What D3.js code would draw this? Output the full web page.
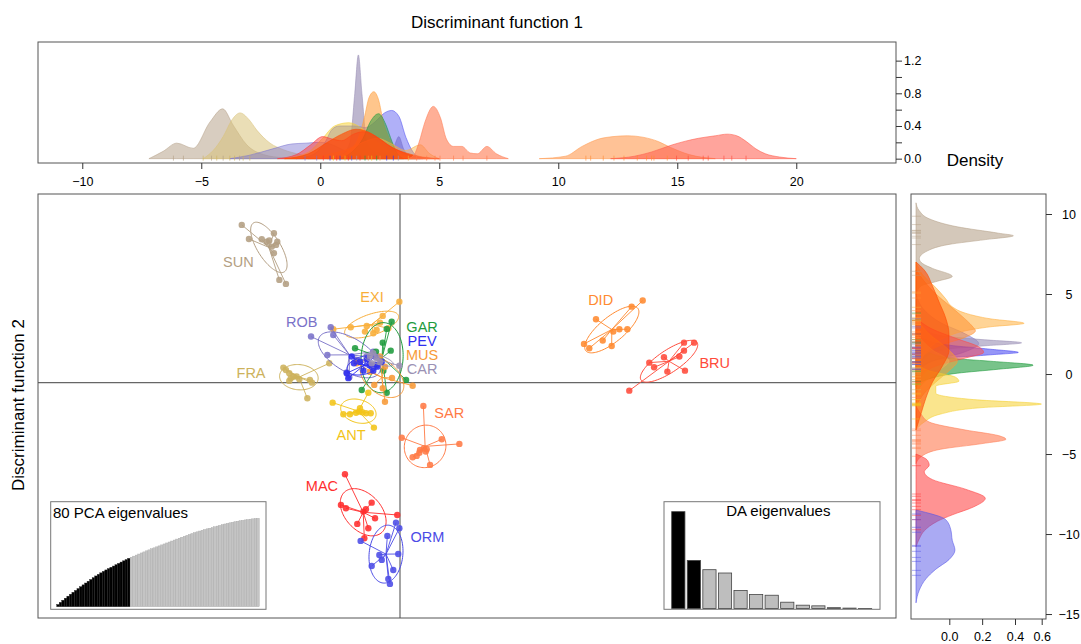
<!DOCTYPE html>
<html><head><meta charset="utf-8">
<script src="https://cdn.jsdelivr.net/npm/d3@7/dist/d3.min.js"></script>
<style>
html,body{margin:0;padding:0;background:#fff;}
svg{display:block;}
text{font-family:"Liberation Sans",Arial,Helvetica,sans-serif;fill:#000;}
</style></head><body>
<svg id="chart" width="1081" height="644"></svg>
<script>
// ---------------- DATA ----------------
const groupNames  = ["SUN","FRA","EXI","ROB","GAR","PEV","MUS","CAR","ANT","SAR","DID","BRU","MAC","ORM"];
const groupColors = ["#B39E82","#CDB25C","#F8AE3A","#7A72C8","#1E9B3C","#2F2FF0","#F79A38","#9B91B4","#F2C418","#FF7A45","#FF8A30","#FF4A3A","#FF2E2E","#4B4BE6"];

// scatter: [LD1, LD2] per individual
const ptsSUN = [[-9.89,9.86],[-9.44,8.98],[-8.64,8.96],[-8.33,8.81],[-8.17,8.88],[-7.88,9.34],[-7.67,8.81],[-7.75,8.61],[-8.02,8.5],[-7.88,8.09],[-7.54,6.42],[-7.13,6.17]];
const ptsFRA = [[-7.29,0.94],[-7.13,0.79],[-6.92,0.59],[-6.83,0.28],[-6.67,0.38],[-6.46,0.38],[-6.92,0.11],[-6.29,0.21],[-5.63,0.17],[-5.5,0],[-4.42,1.21],[-5.79,-0.98]];
const ptsEXI = [[-0.04,5.06],[-1.08,4.17],[-0.73,3.4],[-2.08,3.54],[-3.08,3.46],[-4.17,3.34],[-1.46,3.29],[-1.25,3.75],[-2.19,3.19],[-1.67,3.09]];
const ptsROB = [[-5.56,2.88],[-4.33,3.46],[-4.17,2.98],[-4.54,1.73],[-3.33,0.63],[-3.17,0.34],[-2.71,1.42],[-2.08,1.63],[-1.67,1.94],[-1.46,1.11],[-1.77,1.0]];
const ptsGAR = [[-0.52,3.81],[-0.83,3.36],[-1.08,2.5],[-0.58,2.0],[-2.81,2.15],[-1.04,0.75],[-2.39,-0.46],[-0.83,-0.63],[0.38,0.17],[-1.5,1.94]];
const ptsPEV = [[-3.02,1.63],[-2.88,1.21],[-3.33,0.59],[-3.23,0.28],[-2.5,1.31],[-2.08,1.46],[-1.88,1.11],[-1.56,1.63],[-1.42,1.0],[-1.14,1.31],[-1.67,0.75],[-2.29,0.75]];
const ptsMUS = [[0.79,-0.19],[-1.61,-0.14],[-0.94,-1.19],[-1.08,-0.35],[-2.71,1.21],[-1.25,1.63],[-0.94,1.0],[-1.88,0.67],[-0.5,0.29]];
const ptsCAR = [[-0.04,1.06],[-1.67,1.84],[-1.88,1.63],[-1.25,1.31],[-1.46,1.53],[-1.77,1.21]];
const ptsANT = [[-4.21,-1.25],[-3.54,-1.98],[-3.13,-1.98],[-2.75,-1.88],[-2.5,-1.6],[-2.36,-1.85],[-2.13,-1.91],[-1.83,-1.91],[-1.98,-0.63],[-1.63,-2.81],[-2.56,-1.81]];
const ptsSAR = [[1.46,-1.46],[0.11,-3.44],[2.61,-3.54],[3.71,-3.83],[1.25,-4.21],[1.5,-4.1],[1.67,-4.16],[0.79,-4.66],[1.04,-4.58],[1.21,-4.38],[1.88,-5.14],[1.61,-4.31]];
const ptsDID = [[15.17,5.13],[14.48,4.75],[12.25,3.96],[13.33,3.19],[13.71,3.34],[14.21,3.34],[12.67,2.63],[11.5,2.42],[11.83,2.15],[13.23,2.29]];
const ptsBRU = [[17.75,2.5],[18.38,2.5],[17.75,2.0],[17.46,1.63],[16.5,1.59],[15.58,1.25],[15.88,0.96],[16.71,0.69],[17.81,0.75],[14.33,-0.5]];
const ptsMAC = [[-3.44,-5.73],[-3.69,-7.64],[-3.38,-7.85],[-2.67,-8.83],[-2.29,-8.06],[-2.13,-7.91],[-1.77,-7.5],[-1.56,-8.48],[-1.98,-9.1],[-2.23,-9.73],[-0.17,-8.27]];
const ptsORM = [[-2.46,-9.89],[-0.25,-8.75],[-0.04,-9.1],[-0.79,-9.58],[-0.11,-10.71],[-1.29,-10.77],[-1.77,-11.46],[-0.42,-11.71],[-0.73,-12.27],[-0.63,-12.58],[-1.14,-11.08]];

// top density (Discriminant function 1): [LD1, density]
const topSUN  = [[-7.2,0],[-6.6,0.09],[-6.03,0.19],[-5.34,0.127],[-4.63,0.45],[-4.1,0.61],[-3.66,0.41],[-3.09,0.17],[-2.39,0.05],[-1.55,0.01],[-0.99,0]];
const topFRA  = [[-4.92,0],[-4.5,0.1],[-4.08,0.27],[-3.7,0.48],[-3.37,0.56],[-3.0,0.48],[-2.67,0.35],[-2.11,0.19],[-1.55,0.11],[-0.85,0.05],[-0.15,0]];
const topROB  = [[-3.8,0],[-3.0,0.04],[-2.0,0.12],[-1.2,0.18],[-0.6,0.19],[0,0.2],[0.5,0.17],[1.0,0.1],[1.5,0.03],[2.0,0]];
const topCAR  = [[0.3,0],[0.9,0.05],[1.25,0.2],[1.45,0.8],[1.6,1.27],[1.75,0.8],[1.95,0.2],[2.3,0.08],[2.8,0.06],[3.1,0.15],[3.3,0.27],[3.5,0.12],[3.8,0.02],[4.2,0]];
const topPEV  = [[-1.0,0],[-0.3,0.05],[0.2,0.2],[0.5,0.36],[0.8,0.40],[1.4,0.40],[1.9,0.38],[2.3,0.45],[2.7,0.56],[3.0,0.59],[3.3,0.52],[3.6,0.26],[3.9,0.08],[4.3,0]];
const topMUS  = [[0.5,0],[1.2,0.1],[1.6,0.25],[1.85,0.5],[2.05,0.75],[2.25,0.82],[2.45,0.72],[2.65,0.45],[2.9,0.25],[3.3,0.1],[4.0,0.03],[4.5,0]];
const topGAR  = [[0.8,0],[1.4,0.1],[1.8,0.25],[2.1,0.45],[2.45,0.55],[2.75,0.42],[2.95,0.26],[3.2,0.08],[3.5,0]];
const topANT  = [[-1.5,0],[-0.5,0.08],[0.1,0.25],[0.6,0.4],[1.2,0.44],[1.7,0.38],[2.2,0.25],[2.8,0.12],[3.5,0.04],[4.0,0]];
const topEXI  = [[-0.5,0],[0.5,0.06],[1.2,0.12],[1.8,0.2],[2.4,0.25],[3.0,0.18],[3.6,0.1],[4.2,0.17],[4.6,0.06],[5.0,0]];
const topMAC  = [[-1.8,0],[-1.0,0.05],[-0.4,0.17],[0.1,0.27],[0.5,0.24],[0.9,0.22],[1.4,0.3],[1.8,0.33],[2.3,0.28],[2.9,0.16],[3.6,0.06],[4.3,0.01],[5.0,0]];
const topRED  = [[-1.5,0],[-0.5,0.06],[0.3,0.2],[0.9,0.3],[1.5,0.36],[2.0,0.33],[2.5,0.24],[3.0,0.14],[3.6,0.07],[4.3,0.02],[5.0,0]];
const topSAR  = [[3.7,0],[3.95,0.05],[4.15,0.2],[4.4,0.45],[4.75,0.64],[5.05,0.5],[5.3,0.24],[5.6,0.15],[5.95,0.15],[6.3,0.07],[6.6,0.06],[7.0,0.15],[7.4,0.06],[7.9,0]];
const topDID  = [[9.2,0],[10.3,0.03],[11.0,0.15],[11.7,0.24],[12.3,0.27],[12.9,0.28],[13.6,0.26],[14.2,0.21],[14.7,0.14],[15.5,0.05],[16.6,0]];
const topBRU  = [[12.2,0],[13.2,0.03],[13.9,0.08],[14.8,0.17],[15.9,0.25],[16.6,0.28],[17.1,0.3],[17.5,0.28],[17.9,0.21],[18.3,0.12],[18.7,0.06],[19.3,0.02],[20.0,0]];
const rugTopX = [-6.17,-5.75,-4.92,-4.57,-4.35,-4.08,-3.8,-3.6,-3.39,-3.24,-2.96,-0.64,-0.15,0.13,0.41,0.55,0.69,0.83,1.04,1.18,1.32,1.53,1.67,1.88,2.02,2.16,2.37,2.51,2.79,3.07,3.28,3.7,4.05,4.47,4.82,5.03,5.6,6.0,7.0,11.16,11.36,11.89,12.34,12.76,13.32,13.71,13.92,14.02,14.58,14.97,15.46,16.09,16.3,16.96,17.29,17.89];
const rugTopG = ["SUN","SUN","FRA","SUN","FRA","SUN","FRA","FRA","SUN","FRA","FRA","ROB","ROB","MAC","PEV","ANT","MAC","PEV","ANT","MAC","ORM","CAR","MAC","GAR","MUS","ANT","GAR","MUS","PEV","PEV","CAR","EXI","SAR","SAR","SAR","SAR","SAR","SAR","SAR","DID","DID","DID","DID","DID","DID","DID","DID","DID","DID","BRU","BRU","BRU","BRU","BRU","BRU","BRU"];

// right density (Discriminant function 2): [LD2, density]
const rgtSUN = [[10.7,0],[10.2,0.02],[9.7,0.08],[9.2,0.25],[8.8,0.5],[8.64,0.59],[8.4,0.42],[8.1,0.2],[7.7,0.07],[7.2,0.02],[6.9,0.04],[6.6,0.1],[6.1,0.22],[5.8,0.13],[5.5,0.03],[5.0,0]];
const rgtROB = [[5.0,0],[4.0,0.05],[3.2,0.15],[2.5,0.3],[1.9,0.38],[1.4,0.3],[0.8,0.1],[0.2,0.02],[-0.5,0]];
const rgtCAR = [[3.2,0],[2.8,0.05],[2.4,0.15],[2.15,0.4],[1.95,0.64],[1.75,0.4],[1.5,0.15],[1.0,0.05],[0.5,0]];
const rgtPEV = [[2.6,0],[2.2,0.05],[1.8,0.2],[1.55,0.45],[1.35,0.62],[1.2,0.45],[0.95,0.15],[0.5,0.04],[0,0]];
const rgtGAR = [[2.0,0],[1.5,0.05],[1.0,0.2],[0.8,0.45],[0.55,0.71],[0.3,0.5],[0.05,0.25],[-0.3,0.08],[-0.8,0]];
const rgtEXI = [[7.0,0],[6.2,0.04],[5.4,0.12],[4.7,0.18],[4.2,0.22],[3.8,0.3],[3.45,0.45],[3.17,0.655],[2.95,0.45],[2.7,0.3],[2.3,0.18],[1.6,0.08],[0.5,0.02],[-0.5,0]];
const rgtDID = [[6.5,0],[5.8,0.05],[5.0,0.12],[4.3,0.2],[3.6,0.28],[3.0,0.34],[2.7,0.36],[2.3,0.3],[1.8,0.15],[1.2,0.05],[0.5,0]];
const rgtBRU = [[3.5,0],[2.8,0.1],[2.2,0.25],[1.7,0.38],[1.35,0.41],[1.0,0.3],[0.5,0.12],[-0.2,0.03],[-1.0,0]];
const rgtFRA = [[2.5,0],[1.5,0.1],[0.8,0.2],[0.3,0.15],[-0.5,0.05],[-1.2,0]];
const rgtMUS = [[3.5,0],[2.5,0.08],[1.5,0.2],[0.8,0.25],[0.2,0.2],[-0.5,0.12],[-1.2,0.05],[-2.0,0]];
const rgtANT = [[0.8,0],[0.2,0.08],[-0.2,0.24],[-0.45,0.26],[-0.75,0.12],[-1.2,0.12],[-1.6,0.35],[-1.88,0.76],[-2.1,0.4],[-2.5,0.15],[-3.0,0.05],[-3.5,0]];
const rgtSAR = [[-2.0,0],[-2.5,0.03],[-3.0,0.08],[-3.5,0.3],[-3.85,0.5],[-4.08,0.545],[-4.35,0.4],[-4.7,0.15],[-5.1,0.04],[-5.6,0]];
const rgtMAC = [[-5.0,0],[-5.4,0.07],[-5.7,0.08],[-6.1,0.05],[-6.6,0.1],[-7.2,0.3],[-7.77,0.42],[-8.3,0.35],[-8.8,0.22],[-9.2,0.13],[-9.8,0.05],[-10.3,0.02],[-10.8,0]];
const rgtORM = [[-8.5,0],[-9.1,0.18],[-9.7,0.21],[-10.4,0.22],[-11.0,0.236],[-11.6,0.2],[-12.2,0.12],[-12.8,0.06],[-13.5,0.02],[-14.3,0]];
const rgtRED = [[7.0,0],[6.5,0.05],[5.5,0.1],[4.5,0.14],[3.5,0.18],[2.5,0.2],[1.5,0.2],[0.5,0.16],[-0.5,0.1],[-1.5,0.06],[-2.5,0.03],[-3.5,0]];

// insets
const pcaCumVar = [2.5,4.9,7.3,9.6,11.9,14.1,16.3,18.4,20.5,22.6,24.7,26.8,28.8,30.8,32.8,34.8,36.6,38.3,40.0,41.6,43.1,44.6,46.0,47.5,49.0,50.5,51.9,53.3,54.7,56.0,57.2,58.4,59.6,60.8,62.0,63.2,64.3,65.5,66.6,67.7,68.8,69.9,71.0,72.1,73.2,74.3,75.4,76.5,77.5,78.6,79.6,80.7,81.7,82.8,83.8,84.7,85.6,86.5,87.3,88.1,88.8,89.5,90.4,91.2,92.0,92.8,93.6,94.3,94.9,95.5,96.1,96.7,97.2,97.7,98.2,98.6,99.0,99.4,99.7,100.0];
const nPcaRetained = 29;
const daEig = [29.2,14.5,11.7,10.7,5.4,4.2,4.0,1.9,1.0,0.8,0.25,0.12,0.03];
const nDaRetained = 2;

const topTicksX = [-10,-5,0,5,10,15,20];
const topTicksY = [0,0.2,0.4,0.6,0.8,1.0,1.2];
const topLabelsY = [0,0.4,0.8,1.2];
const rgtTicksY = [10,5,0,-5,-10,-15];
const rgtTicksX = [0,0.2,0.4,0.6];

// ---------------- LAYOUT / STYLE ----------------
const svg = d3.select("#chart");
const color = d3.scaleOrdinal().domain(groupNames).range(groupColors);
const labelPos = {SUN:[-10.1,7.56],EXI:[-1.75,5.34],ROB:[-6.14,3.81],GAR:[1.38,3.48],PEV:[1.38,2.61],MUS:[1.38,1.73],CAR:[1.38,0.86],FRA:[-9.31,0.63],ANT:[-3.06,-3.27],SAR:[3.08,-1.88],DID:[12.54,5.21],BRU:[19.67,1.25],MAC:[-4.88,-6.46],ORM:[1.71,-9.63]};

const M = {x0:38,x1:896,y0:194,y1:618};   // main panel
const T = {x0:38,x1:896,y0:42,y1:163};    // top density
const R = {x0:911,x1:1046,y0:194,y1:619}; // right density

const xS = d3.scaleLinear().domain([-22.625,31]).range([M.x0,M.x1]);
const yS = d3.scaleLinear().domain([-14.71,11.79]).range([M.y1,M.y0]);
const xT = d3.scaleLinear().domain([-11.86,24.19]).range([T.x0,T.x1]);
const yT = d3.scaleLinear().domain([-0.053,1.428]).range([T.y1,T.y0]);
const yR = d3.scaleLinear().domain([-15.31,11.25]).range([R.y1,R.y0]);
const xR = d3.scaleLinear().domain([0,0.7]).range([916,916+0.7*165]);
const xRaxis = d3.scaleLinear().domain([0,0.4,0.6]).range([949.3,1015,1041.7]);

const defs = svg.append("defs");
function clip(id,b){defs.append("clipPath").attr("id",id).append("rect").attr("x",b.x0).attr("y",b.y0).attr("width",b.x1-b.x0).attr("height",b.y1-b.y0);}
clip("cT",T); clip("cR",R); clip("cM",M);

// ---------- top density ----------
const gT = svg.append("g").attr("clip-path","url(#cT)");
const areaT = d3.area().x(d=>xT(d[0])).y0(yT(0)).y1(d=>yT(d[1])).curve(d3.curveMonotoneX);
const topLayers = [
  [topSUN,"#B8A48C",0.55],[topFRA,"#D9C27A",0.55],[topROB,"#7B73D0",0.45],[topCAR,"#9A8FB5",0.65],
  [topPEV,"#5050F0",0.45],[topMUS,"#FFA040",0.6],[topANT,"#F5D030",0.5],[topGAR,"#1E9B3C",0.5],
  [topEXI,"#F9B040",0.45],[topMAC,"#FF3A3A",0.5],[topRED,"#FF4A00",0.65],[topSAR,"#FF7A50",0.6],
  [topDID,"#FF9A50",0.6],[topBRU,"#FF5A4A",0.55]];
topLayers.forEach(([data,c,o])=>{
  gT.append("path").datum(data).attr("d",areaT).attr("fill",c).attr("fill-opacity",o)
    .attr("stroke",c).attr("stroke-opacity",0.7).attr("stroke-width",0.8);
});
gT.selectAll("line.rug").data(rugTopX.map((x,i)=>[x,rugTopG[i]])).join("line")
  .attr("x1",d=>xT(d[0])).attr("x2",d=>xT(d[0])).attr("y1",yT(0)-3).attr("y2",yT(0)+2)
  .attr("stroke",d=>color(d[1])).attr("stroke-opacity",0.6).attr("stroke-width",1);
svg.append("rect").attr("x",T.x0).attr("y",T.y0).attr("width",T.x1-T.x0).attr("height",T.y1-T.y0)
  .attr("fill","none").attr("stroke","#555").attr("stroke-width",1);

function styleAxis(g){g.select(".domain").remove();g.selectAll(".tick line").attr("stroke","#333");g.selectAll("text").attr("font-size",12.5).attr("font-family","Liberation Sans, Arial, sans-serif").attr("fill","#111");}
svg.append("g").attr("transform",`translate(0,${T.y1})`)
  .call(d3.axisBottom(xT).tickValues(topTicksX).tickSize(6).tickPadding(8)).call(styleAxis);
svg.append("g").attr("transform",`translate(${T.x1},0)`)
  .call(d3.axisRight(yT).tickValues(topTicksY).tickSize(6).tickPadding(2)
    .tickFormat(d=>topLabelsY.some(v=>Math.abs(v-d)<1e-9)?d3.format(".1f")(d):"")).call(styleAxis);
svg.append("text").attr("x",497).attr("y",28).attr("text-anchor","middle").attr("font-size",17).text("Discriminant function 1");

// ---------- right density ----------
const gR = svg.append("g").attr("clip-path","url(#cR)");
const areaR = d3.area().y(d=>yR(d[0])).x0(xR(0)).x1(d=>xR(d[1])).curve(d3.curveMonotoneY);
const rgtLayers = [
  [rgtSUN,"#B8A48C",0.6],[rgtROB,"#7B73D0",0.5],[rgtCAR,"#9A8FB5",0.6],[rgtPEV,"#4040F0",0.55],
  [rgtGAR,"#1E9B3C",0.6],[rgtEXI,"#FFB040",0.55],[rgtDID,"#FF9030",0.55],[rgtBRU,"#FF4A4A",0.5],
  [rgtFRA,"#D9C27A",0.5],[rgtMUS,"#FF9A30",0.5],[rgtANT,"#F5D030",0.55],[rgtSAR,"#FF7A50",0.6],
  [rgtMAC,"#FF3A3A",0.55],[rgtORM,"#5555E8",0.5],[rgtRED,"#FF4A00",0.6]];
rgtLayers.forEach(([data,c,o])=>{
  const sorted = data.slice().sort((a,b)=>a[0]-b[0]);
  gR.append("path").datum(sorted).attr("d",areaR).attr("fill",c).attr("fill-opacity",o)
    .attr("stroke",c).attr("stroke-opacity",0.7).attr("stroke-width",0.8);
});
const scatterGroups = [["SUN",ptsSUN],["FRA",ptsFRA],["EXI",ptsEXI],["ROB",ptsROB],["GAR",ptsGAR],["MUS",ptsMUS],["PEV",ptsPEV],["CAR",ptsCAR],["ANT",ptsANT],["SAR",ptsSAR],["DID",ptsDID],["BRU",ptsBRU],["MAC",ptsMAC],["ORM",ptsORM]];
scatterGroups.forEach(([g,pts])=>{
  gR.selectAll(null).data(pts).join("line")
    .attr("x1",R.x0+1).attr("x2",R.x0+10).attr("y1",d=>yR(d[1])).attr("y2",d=>yR(d[1]))
    .attr("stroke",color(g)).attr("stroke-opacity",0.45).attr("stroke-width",1);
});
svg.append("rect").attr("x",R.x0).attr("y",R.y0).attr("width",R.x1-R.x0).attr("height",R.y1-R.y0)
  .attr("fill","none").attr("stroke","#555").attr("stroke-width",1);
const axR = svg.append("g").attr("transform",`translate(${R.x1},0)`)
  .call(d3.axisRight(yR).tickValues(rgtTicksY).tickSize(6).tickPadding(2)).call(styleAxis);
axR.selectAll("text").attr("text-anchor","middle").attr("x",23);
svg.append("g").attr("transform",`translate(0,${R.y1})`)
  .call(d3.axisBottom(xRaxis).tickValues(rgtTicksX).tickSize(6).tickPadding(7).tickFormat(d3.format(".1f"))).call(styleAxis);
svg.append("text").attr("x",975).attr("y",166).attr("text-anchor","middle").attr("font-size",17).text("Density");

// ---------- main scatter ----------
svg.append("text").attr("transform","translate(24,405) rotate(-90)").attr("text-anchor","middle").attr("font-size",17).text("Discriminant function 2");
const gM = svg.append("g").attr("clip-path","url(#cM)");
gM.append("line").attr("x1",xS(0)).attr("x2",xS(0)).attr("y1",M.y0).attr("y2",M.y1).attr("stroke","#666").attr("stroke-width",1.2);
gM.append("line").attr("x1",M.x0).attr("x2",M.x1).attr("y1",yS(0)).attr("y2",yS(0)).attr("stroke","#666").attr("stroke-width",1.2);

function ellipse(pts,k){
  const n=pts.length, mx=d3.mean(pts,d=>d[0]), my=d3.mean(pts,d=>d[1]);
  let sxx=0,syy=0,sxy=0;
  pts.forEach(([x,y])=>{sxx+=(x-mx)*(x-mx);syy+=(y-my)*(y-my);sxy+=(x-mx)*(y-my);});
  sxx/=n;syy/=n;sxy/=n;
  const tr=sxx+syy, det=sxx*syy-sxy*sxy, disc=Math.sqrt(Math.max(0,tr*tr/4-det));
  const l1=tr/2+disc, l2=Math.max(0,tr/2-disc);
  const th=(Math.abs(sxy)<1e-12)?(sxx>=syy?0:Math.PI/2):Math.atan2(l1-sxx,sxy);
  const a=k*Math.sqrt(l1), b=k*Math.sqrt(l2);
  return {mx,my,pts:d3.range(0,101).map(i=>{const t=i/100*2*Math.PI;
    return [mx+a*Math.cos(t)*Math.cos(th)-b*Math.sin(t)*Math.sin(th), my+a*Math.cos(t)*Math.sin(th)+b*Math.sin(t)*Math.cos(th)];})};
}
const lineS = d3.line().x(d=>xS(d[0])).y(d=>yS(d[1]));
scatterGroups.forEach(([g,pts])=>{
  const c=color(g), e=ellipse(pts,1.5);
  const gg=gM.append("g");
  gg.append("path").attr("d",lineS(e.pts)).attr("fill","none").attr("stroke",c).attr("stroke-width",1);
  gg.selectAll("line").data(pts).join("line")
    .attr("x1",xS(e.mx)).attr("y1",yS(e.my)).attr("x2",d=>xS(d[0])).attr("y2",d=>yS(d[1]))
    .attr("stroke",c).attr("stroke-width",1).attr("stroke-opacity",0.9);
  gg.selectAll("circle").data(pts).join("circle")
    .attr("cx",d=>xS(d[0])).attr("cy",d=>yS(d[1])).attr("r",3.2).attr("fill",c).attr("fill-opacity",0.88);
});
groupNames.forEach(g=>{
  gM.append("text").attr("x",xS(labelPos[g][0])).attr("y",yS(labelPos[g][1])).attr("dy","0.36em")
    .attr("text-anchor","middle").attr("font-size",14.5).style("fill",color(g)).text(g);
});

// ---------- inset: PCA eigenvalues ----------
const P = {x0:50.7,y0:501.7,x1:266,y1:609.3};
svg.append("rect").attr("x",P.x0).attr("y",P.y0).attr("width",P.x1-P.x0).attr("height",P.y1-P.y0).attr("fill","#fff").attr("stroke","#777");
const xP = d3.scaleBand().domain(d3.range(pcaCumVar.length)).range([56.7,259.3]).padding(0);
const yP = d3.scaleLinear().domain([0,100]).range([606.7,518.3]);
svg.append("g").selectAll("rect").data(pcaCumVar).join("rect")
  .attr("x",(d,i)=>xP(i)).attr("width",xP.bandwidth()).attr("y",d=>yP(d)).attr("height",d=>yP(0)-yP(d))
  .attr("fill",(d,i)=>i<nPcaRetained?"#000":"#C4C4C4").attr("stroke",(d,i)=>i<nPcaRetained?"#222":"#A8A8A8").attr("stroke-width",0.4);
svg.append("text").attr("x",53).attr("y",517.5).attr("font-size",15).text("80 PCA eigenvalues");

// ---------- inset: DA eigenvalues ----------
const D = {x0:664,y0:501.7,x1:880,y1:609.3};
svg.append("rect").attr("x",D.x0).attr("y",D.y0).attr("width",D.x1-D.x0).attr("height",D.y1-D.y0).attr("fill","#fff").attr("stroke","#777");
const xD = d3.scaleBand().domain(d3.range(daEig.length)).range([671.7,871.7]).paddingInner(0.15).paddingOuter(0);
const yD = d3.scaleLinear().domain([0,32.2]).range([608.5,501.7]);
svg.append("g").selectAll("rect").data(daEig).join("rect")
  .attr("x",(d,i)=>xD(i)).attr("width",xD.bandwidth()).attr("y",d=>yD(d)).attr("height",d=>yD(0)-yD(d))
  .attr("fill",(d,i)=>i<nDaRetained?"#000":"#BEBEBE").attr("stroke","#444").attr("stroke-width",0.8);
svg.append("text").attr("x",778.3).attr("y",516).attr("text-anchor","middle").attr("font-size",15).text("DA eigenvalues");

// main frame on top
svg.append("rect").attr("x",M.x0).attr("y",M.y0).attr("width",M.x1-M.x0).attr("height",M.y1-M.y0)
  .attr("fill","none").attr("stroke","#555").attr("stroke-width",1);
</script></body></html>
